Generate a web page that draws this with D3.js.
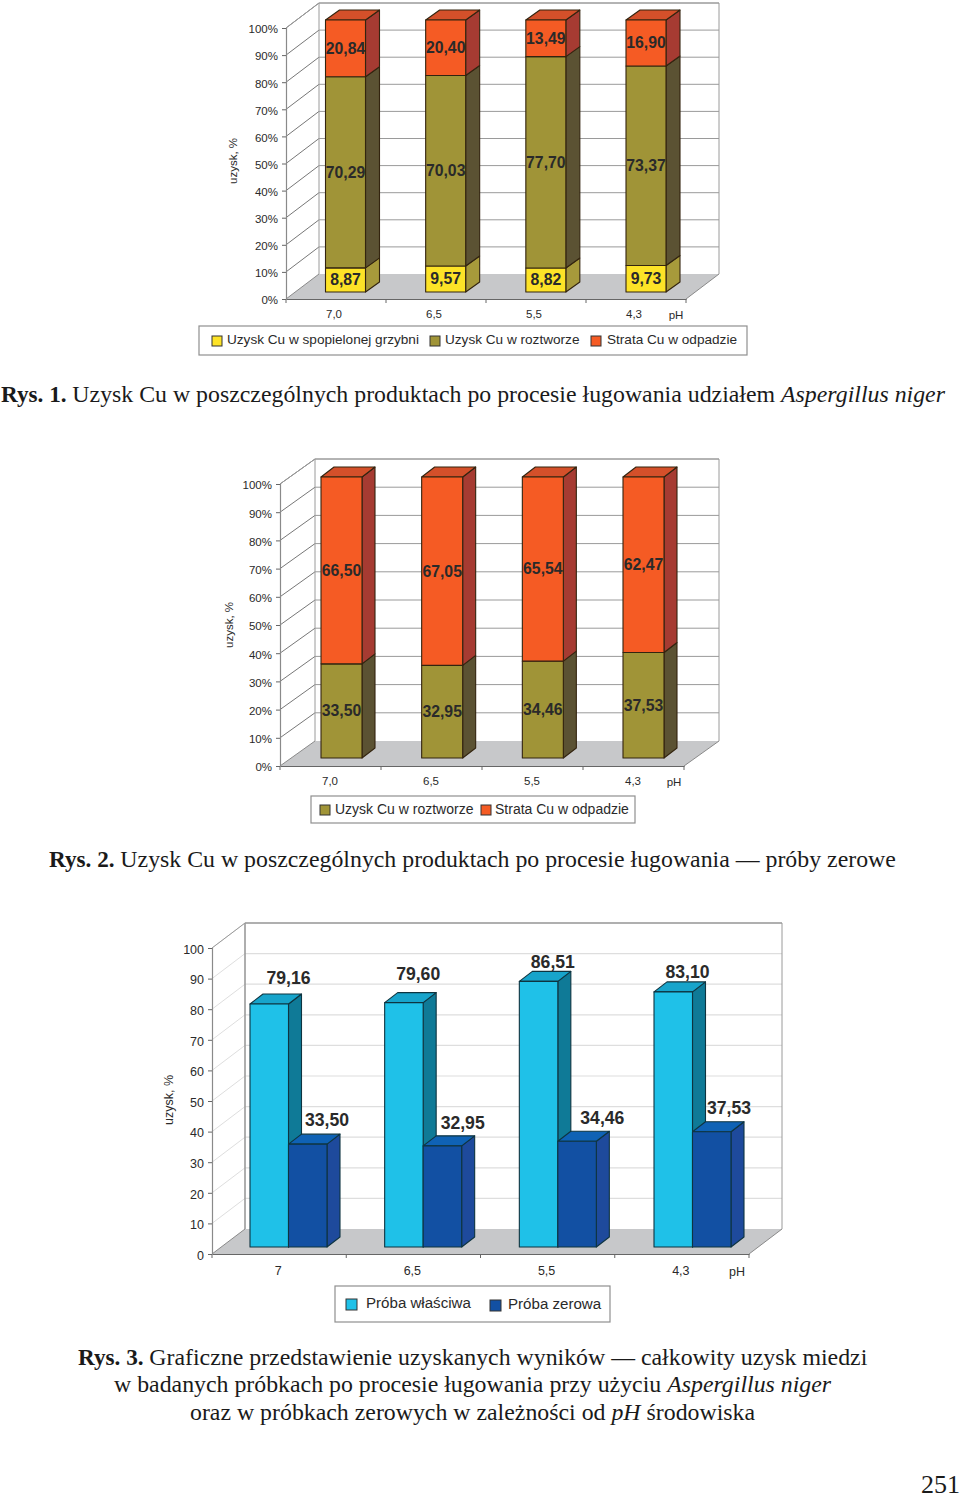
<!DOCTYPE html>
<html><head><meta charset="utf-8">
<style>html,body{margin:0;padding:0;background:#fff}svg{display:block}text{font-family:"Liberation Sans",Arial,sans-serif;fill:#2a2a2a}.cap text,text.cap{font-family:"Liberation Serif","Times New Roman",serif;fill:#1a1a1a}</style>
<script src="https://cdnjs.cloudflare.com/ajax/libs/d3/7.8.5/d3.min.js"></script>
</head><body><div id="c"></div>
<script>
// ---- data ----
const phLabels = ["7,0","6,5","5,5","4,3"];
const phLabels3 = ["7","6,5","5,5","4,3"];
const pctTicks = [0,10,20,30,40,50,60,70,80,90,100];
const ch1Ash = [8.87,9.57,8.82,9.73];
const ch1Solution = [70.29,70.03,77.70,73.37];
const ch1Loss = [20.84,20.40,13.49,16.90];
const ch2Solution = [33.50,32.95,34.46,37.53];
const ch2Loss = [66.50,67.05,65.54,62.47];
const ch3Sample = [79.16,79.60,86.51,83.10];
const ch3Blank = [33.50,32.95,34.46,37.53];
const legend1 = ["Uzysk Cu w spopielonej grzybni","Uzysk Cu w roztworze","Strata Cu w odpadzie"];
const legend2 = ["Uzysk Cu w roztworze","Strata Cu w odpadzie"];
const legend3 = ["Próba właściwa","Próba zerowa"];
// ---- palette / layout ----
const yellow={front:"#fde327",side:"#a79a3b",top:"#c9b92f"};
const olive={front:"#a09437",side:"#5b5233",top:"#7d7335"};
const orange={front:"#f55b24",side:"#a63b32",top:"#d4502a"};
const cyan={front:"#1fc1e8",side:"#0f7a97",top:"#17a4cb"};
const navy={front:"#1250a3",side:"#1e4a9c",top:"#0f62b5"};
const fmt=v=>d3.format(".2f")(v).replace(".",",");
const svg=d3.select("#c").append("svg").attr("width",960).attr("height",1498);
const poly=(g,pts,fill,stroke,sw)=>g.append("polygon").attr("points",pts.map(p=>p.join(",")).join(" ")).attr("fill",fill).attr("stroke",stroke||"none").attr("stroke-width",sw||1).attr("stroke-linejoin","round");
const line=(g,x1,y1,x2,y2,c,w)=>g.append("line").attr("x1",x1).attr("y1",y1).attr("x2",x2).attr("y2",y2).attr("stroke",c).attr("stroke-width",w||1);

function frame(o){
 const g=svg.append("g");
 const x=d3.scaleBand().domain(o.cats).range([o.x0,o.x1]);
 const y=d3.scaleLinear().domain([0,100]).range([o.y0,o.y100]);
 const dx=o.dx,dy=o.dy;
 poly(g,[[o.x0,o.y0],[o.x1,o.y0],[o.x1+dx,o.y0+dy],[o.x0+dx,o.y0+dy]],"#c7c8ca");
 o.ticks.forEach(t=>{ if(t>0){
   line(g,o.x0,y(t),o.x0+dx,y(t)+dy,o.sideGrid,1);
   line(g,o.x0+dx,y(t)+dy,o.x1+dx,y(t)+dy,o.backGrid,o.gridW||1);
 }});
 line(g,o.x0+dx,o.y0+dy,o.x0+dx,o.y100+dy,"#9a9a9a",o.wallW||1);
 line(g,o.x1+dx,o.y0+dy,o.x1+dx,o.y100+dy,"#9a9a9a",1);
 line(g,o.x0+dx,o.y100+dy,o.x1+dx,o.y100+dy,"#9a9a9a",o.wallW||1);
 line(g,o.x0,o.y100,o.x0+dx,o.y100+dy,"#9a9a9a",1);
 line(g,o.x1,o.y0,o.x1+dx,o.y0+dy,"#8a8a8a",1);
 line(g,o.x0,o.y0,o.x0+dx,o.y0+dy,"#8a8a8a",1);
 const ax=g.append("g").attr("transform",`translate(0,${o.y0})`).call(d3.axisBottom(x).tickSize(0).tickFormat(""));
 ax.select(".domain").attr("stroke","#666").attr("stroke-width",1.2);
 o.cats.concat([null]).forEach((c,i)=>{const px=o.x0+i*x.step();line(g,px,o.y0,px,o.y0+4,"#666",1);});
 const ay=g.append("g").attr("transform",`translate(${o.x0},0)`).call(d3.axisLeft(y).tickValues(o.ticks).tickSize(4).tickPadding(4).tickFormat(o.tickFmt));
 ay.select(".domain").attr("stroke","#8a8a8a").attr("stroke-width",1.2);
 ay.selectAll(".tick line").attr("stroke","#666");
 ay.selectAll("text").attr("font-size",o.tickSize).attr("font-family","Liberation Sans").attr("fill","#2a2a2a").attr("dy","0.42em");
 o.cats.forEach(c=>g.append("text").attr("x",x(c)+x.bandwidth()/2-o.catShift).attr("y",o.y0+o.catDy).attr("text-anchor","middle").attr("font-size",o.tickSize).text(c));
 g.append("text").attr("x",o.phX).attr("y",o.y0+o.phDy).attr("text-anchor","middle").attr("font-size",o.tickSize).text("pH");
 g.append("text").attr("transform",`translate(${o.titleX},${o.titleY}) rotate(-90)`).attr("text-anchor","middle").attr("font-size",o.tickSize).text("uzysk, %");
 return g;
}
function box(g,x,w,yt,yb,d,c,stroke,top){
 poly(g,[[x+w,yb],[x+w+d[0],yb+d[1]],[x+w+d[0],yt+d[1]],[x+w,yt]],c.side,stroke,1.1);
 if(top) poly(g,[[x,yt],[x+w,yt],[x+w+d[0],yt+d[1]],[x+d[0],yt+d[1]]],c.top,stroke,1.1);
 poly(g,[[x,yb],[x+w,yb],[x+w,yt],[x,yt]],c.front,stroke,1.1);
}
function stacked(g,o,series){
 const xc=d3.scalePoint().domain(d3.range(o.n)).range([o.c0,o.c1]);
 const y=d3.scaleLinear().domain([0,100]).range([o.base,o.top]);
 d3.range(o.n).forEach(i=>{
  let acc=0;
  series.forEach((s,k)=>{
   const v=s.values[i],a=acc,b=acc+v;acc=b;
   box(g,xc(i)-o.w/2,o.w,y(b),y(a),o.d,s.color,"#33240f",k===series.length-1);
  });
  acc=0;
  series.forEach(s=>{
   const v=s.values[i],a=acc,b=acc+v;acc=b;
   g.append("text").attr("x",xc(i)).attr("y",(y(a)+y(b))/2).attr("dy","0.34em").attr("text-anchor","middle")
    .attr("font-size",o.labelSize).attr("font-weight","bold").attr("fill","#2a2113").text(fmt(v));
  });
 });
}
function legend(o,names,colors){
 const g=svg.append("g");
 g.append("rect").attr("x",o.x).attr("y",o.y).attr("width",o.w).attr("height",o.h).attr("fill","#fff").attr("stroke","#8f8f8f").attr("stroke-width",1.2);
 names.forEach((n,i)=>{
  const yc=o.y+o.h/2+(o.itemDy?o.itemDy[i]:0);
  g.append("rect").attr("x",o.sw[i]).attr("y",yc-o.s/2+0.5).attr("width",o.s).attr("height",o.s).attr("fill",colors[i].front).attr("stroke","#333").attr("stroke-width",1);
  g.append("text").attr("x",o.tx[i]).attr("y",yc-1).attr("dy","0.36em").attr("font-size",o.size).text(n);
 });
}
const pct=d=>d+"%";
// Chart 1
{
 const g=frame({cats:phLabels,x0:286,x1:686,y0:299,y100:28,dx:33,dy:-25,ticks:pctTicks,tickFmt:pct,tickSize:11.5,backGrid:"#9a9a9a",sideGrid:"#777",catShift:2,catDy:19,phX:676,phDy:20,titleX:237,titleY:161});
 stacked(g,{n:4,c0:345.5,c1:646,w:40,d:[14,-10],base:292,top:20,labelSize:15.8},[{values:ch1Ash,color:yellow},{values:ch1Solution,color:olive},{values:ch1Loss,color:orange}]);
 legend({x:199,y:326,w:548,h:29,sw:[212,430,591],tx:[227,445,607],s:10,size:13.6},legend1,[yellow,olive,orange]);
}
// Chart 2
{
 const g=frame({cats:phLabels,x0:280,x1:684,y0:766,y100:484,dx:35,dy:-25,ticks:pctTicks,tickFmt:pct,tickSize:11.5,backGrid:"#9a9a9a",sideGrid:"#777",catShift:0.5,catDy:19,phX:674,phDy:20,titleX:233,titleY:625});
 stacked(g,{n:4,c0:341.5,c1:643.5,w:41,d:[13,-10],base:758,top:477,labelSize:15.8},[{values:ch2Solution,color:olive},{values:ch2Loss,color:orange}]);
 legend({x:311,y:796,w:324,h:27,sw:[320,481],tx:[335,495],s:10,size:14},legend2,[olive,orange]);
}
// Chart 3
const nudge3A=[[0,0],[-5,-3],[-5,7],[-5,6]], nudge3B=[[0,0],[1,1],[6,1],[-2,0]];
{
 const g=frame({cats:phLabels3,x0:212,x1:749,y0:1254,y100:948,dx:33,dy:-25,ticks:pctTicks,tickFmt:d=>d,tickSize:12.5,backGrid:"#dedede",sideGrid:"#dedede",wallW:1.6,gridW:1.2,catShift:1,catDy:21,phX:737,phDy:22,titleX:173,titleY:1100});
 const xg=d3.scalePoint().domain(d3.range(4)).range([250,654]);
 const y=d3.scaleLinear().domain([0,100]).range([1247,940]);
 const w=38.5,d=[13,-10],st="#0e3440";
 d3.range(4).forEach(i=>{
  const a=xg(i);
  box(g,a,w,y(ch3Sample[i]),y(0),d,cyan,st,true);
  box(g,a+w,w,y(ch3Blank[i]),y(0),d,navy,st,true);
  g.append("text").attr("x",a+w+nudge3A[i][0]).attr("y",y(ch3Sample[i])-20+nudge3A[i][1]).attr("text-anchor","middle").attr("font-size",17.6).attr("font-weight","bold").text(fmt(ch3Sample[i]));
  g.append("text").attr("x",a+2*w+nudge3B[i][0]).attr("y",y(ch3Blank[i])-18+nudge3B[i][1]).attr("text-anchor","middle").attr("font-size",17.6).attr("font-weight","bold").text(fmt(ch3Blank[i]));
 });
 legend({x:335,y:1286,w:275,h:36,sw:[346,490],tx:[366,508],s:11,size:15.1,itemDy:[0,1]},legend3,[cyan,navy]);
}
// Captions
const fs=23.84, fsBold=23.2;
function cap(x,y,parts,size){
 const t=svg.append("text").attr("class","cap").attr("x",x).attr("y",y).attr("font-size",size||fs);
 parts.forEach(p=>t.append("tspan").attr("font-size",p[1]==="b"?fsBold:null).attr("font-weight",p[1]==="b"?"bold":null).attr("font-style",p[1]==="i"?"italic":null).text(p[0]));
}
cap(1,402,[["Rys. 1. ","b"],["Uzysk Cu w poszczególnych produktach po procesie ługowania udziałem "],["Aspergillus niger","i"]]);
cap(49,867,[["Rys. 2. ","b"],["Uzysk Cu w poszczególnych produktach po procesie ługowania — próby zerowe"]]);
cap(78,1365,[["Rys. 3. ","b"],["Graficzne przedstawienie uzyskanych wyników — całkowity uzysk miedzi"]]);
cap(114,1392,[["w badanych próbkach po procesie ługowania przy użyciu "],["Aspergillus niger","i"]]);
cap(190,1420,[["oraz w próbkach zerowych w zależności od "],["pH","i"],[" środowiska"]]);
cap(921,1493,[["251"]],26);
</script></body></html>
